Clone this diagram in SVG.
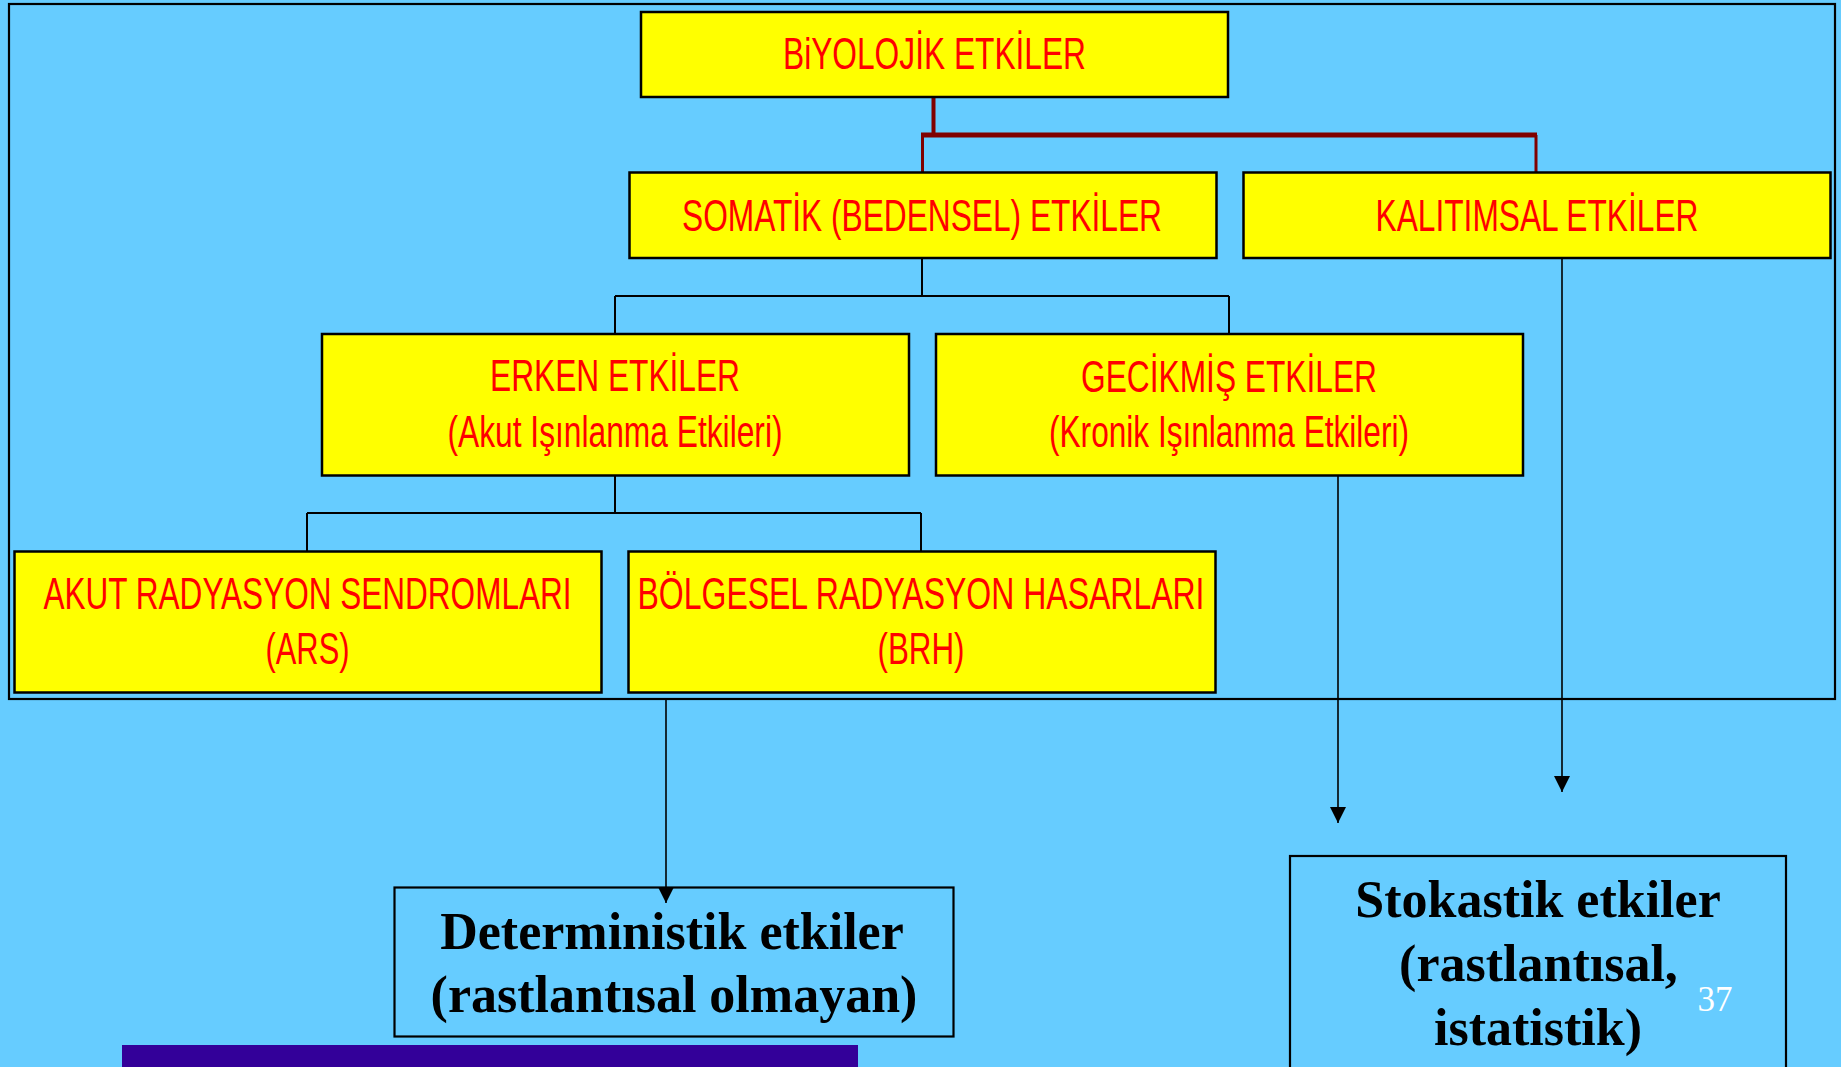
<svg xmlns="http://www.w3.org/2000/svg" width="1841" height="1067" viewBox="0 0 1841 1067">
<defs>
<style>
.bg{fill:#66CCFF}
.box{fill:#FFFF00;stroke:#000;stroke-width:2.5}
.obox{fill:none;stroke:#000;stroke-width:2.2}
.rt{font-family:"Liberation Sans",Arial,sans-serif;font-size:31.5px;fill:#FF0000;text-anchor:middle}
.bt{font-family:"Liberation Serif","Times New Roman",serif;font-size:52px;font-weight:bold;fill:#000;text-anchor:middle}
.red{stroke:#800000;fill:none}
.blk{stroke:#000;fill:none;stroke-width:2}
.thin{stroke:#000;fill:none;stroke-width:1.6}
</style>
<marker id="ah" viewBox="0 0 10 10" refX="10" refY="5" markerWidth="16" markerHeight="16" markerUnits="userSpaceOnUse" orient="auto">
<path d="M0,0 L10,5 L0,10 Z" fill="#000"/>
</marker>
</defs>
<rect class="bg" x="0" y="0" width="1841" height="1067"/>
<rect x="9" y="4" width="1826" height="695" fill="none" stroke="#000" stroke-width="2.2"/>
<rect x="122" y="1045" width="736" height="22" fill="#330099"/>

<g id="connectors">
<path class="red" stroke-width="4" d="M933.5,97 V134"/>
<path class="red" stroke-width="5" d="M921,135 H1537"/>
<path class="red" stroke-width="3" d="M922.5,135 V172 M1536,135 V172"/>
<path class="blk" d="M922,258 V296 M615,296 H1229 M615,296 V334 M1229,296 V334"/>
<path class="blk" d="M615,476 V513 M307,513 H921 M307,513 V551 M921,513 V551"/>
<path class="thin" d="M1338,475 V823" marker-end="url(#ah)"/>
<path class="thin" d="M1562,258 V792" marker-end="url(#ah)"/>
<path class="thin" d="M666,699 V903" marker-end="url(#ah)"/>
</g>

<g id="node-biyolojik">
<rect class="box" x="641" y="12" width="587" height="85"/>
<text class="rt" transform="translate(934.5,69) scale(1,1.4)" textLength="303" lengthAdjust="spacingAndGlyphs">BiYOLOJİK ETKİLER</text>
</g>
<g id="node-somatik">
<rect class="box" x="629.5" y="172.5" width="587" height="85.5"/>
<text class="rt" transform="translate(922,230.5) scale(1,1.4)" textLength="480" lengthAdjust="spacingAndGlyphs">SOMATİK (BEDENSEL) ETKİLER</text>
</g>
<g id="node-kalitimsal">
<rect class="box" x="1243.5" y="172.5" width="587" height="85.5"/>
<text class="rt" transform="translate(1537,230.5) scale(1,1.4)" textLength="323" lengthAdjust="spacingAndGlyphs">KALITIMSAL ETKİLER</text>
</g>
<g id="node-erken">
<rect class="box" x="322" y="334" width="587" height="141.5"/>
<text class="rt" transform="translate(615,391) scale(1,1.4)" textLength="250" lengthAdjust="spacingAndGlyphs">ERKEN ETKİLER</text>
<text class="rt" transform="translate(615,446.5) scale(1,1.4)" textLength="335" lengthAdjust="spacingAndGlyphs">(Akut Işınlanma Etkileri)</text>
</g>
<g id="node-gecikmis">
<rect class="box" x="936" y="334" width="587" height="141.5"/>
<text class="rt" transform="translate(1229,391.5) scale(1,1.4)" textLength="296" lengthAdjust="spacingAndGlyphs">GECİKMİŞ ETKİLER</text>
<text class="rt" transform="translate(1229,446.5) scale(1,1.4)" textLength="360" lengthAdjust="spacingAndGlyphs">(Kronik Işınlanma Etkileri)</text>
</g>
<g id="node-ars">
<rect class="box" x="14.5" y="551.5" width="587" height="141"/>
<text class="rt" transform="translate(307.5,608.5) scale(1,1.4)" textLength="528" lengthAdjust="spacingAndGlyphs">AKUT RADYASYON SENDROMLARI</text>
<text class="rt" transform="translate(307.5,664) scale(1,1.4)" textLength="84" lengthAdjust="spacingAndGlyphs">(ARS)</text>
</g>
<g id="node-brh">
<rect class="box" x="628.5" y="551.5" width="587" height="141"/>
<text class="rt" transform="translate(921,608.5) scale(1,1.4)" textLength="567" lengthAdjust="spacingAndGlyphs">BÖLGESEL RADYASYON HASARLARI</text>
<text class="rt" transform="translate(921,664) scale(1,1.4)" textLength="87" lengthAdjust="spacingAndGlyphs">(BRH)</text>
</g>
<g id="node-deterministik">
<rect class="obox" x="394.5" y="887.5" width="559" height="149"/>
<text class="bt" x="672" y="948.5">Deterministik etkiler</text>
<text class="bt" x="674" y="1011.5">(rastlantısal olmayan)</text>
</g>
<g id="node-stokastik">
<rect class="obox" x="1290" y="856" width="496" height="230"/>
<text class="bt" x="1538" y="916.5">Stokastik etkiler</text>
<text class="bt" x="1538.5" y="981">(rastlantısal,</text>
<text class="bt" x="1538" y="1045">istatistik)</text>
</g>
<text x="1715" y="1010.5" font-family="Liberation Serif,'Times New Roman',serif" font-size="35" fill="#FFFFFF" text-anchor="middle">37</text>
</svg>
